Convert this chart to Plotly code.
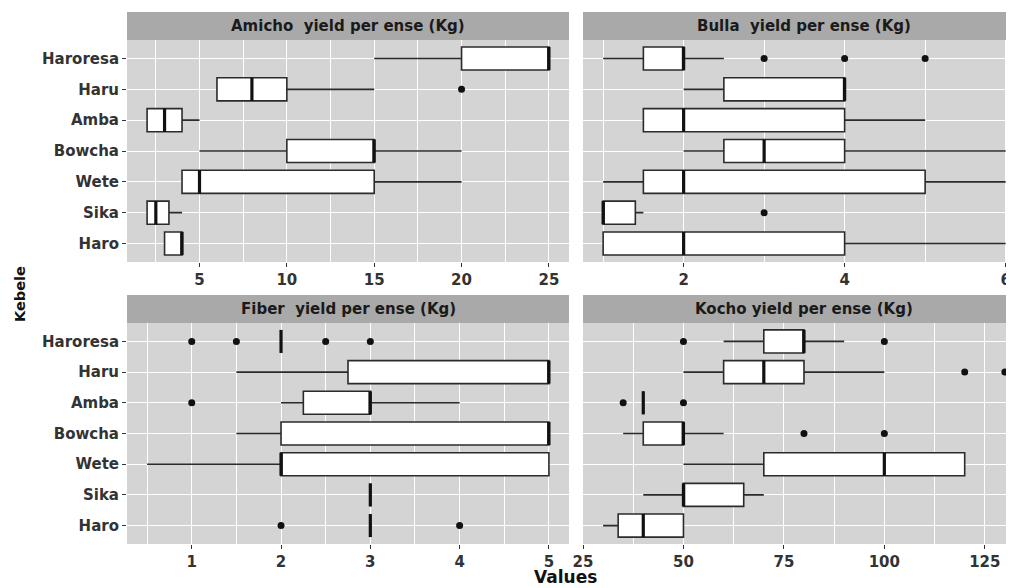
import plotly.graph_objects as go

# ---------------- data ----------------
kebele = ["Haro", "Sika", "Wete", "Bowcha", "Amba", "Haru", "Haroresa"]  # bottom -> top
panel_titles = ["Amicho\u00a0 yield per ense (Kg)", "Bulla\u00a0 yield per ense (Kg)",
                "Fiber\u00a0 yield per ense (Kg)", "Kocho yield per ense (Kg)"]

# Amicho
amicho_low = [3, 2, 4, 5, 2, 6, 15]
amicho_q1 = [3, 2, 4, 10, 2, 6, 20]
amicho_med = [4, 2.5, 5, 15, 3, 8, 25]
amicho_q3 = [4, 3.25, 15, 15, 4, 10, 25]
amicho_high = [4, 4, 20, 20, 5, 15, 25]
amicho_out_k = ["Haru"]
amicho_out_v = [20]

# Bulla
bulla_low = [1, 1, 1, 2, 1.5, 2, 1]
bulla_q1 = [1, 1, 1.5, 2.5, 1.5, 2.5, 1.5]
bulla_med = [2, 1, 2, 3, 2, 4, 2]
bulla_q3 = [4, 1.4, 5, 4, 4, 4, 2]
bulla_high = [6, 1.5, 6, 6, 5, 4, 2.5]
bulla_out_k = ["Sika", "Haroresa", "Haroresa", "Haroresa"]
bulla_out_v = [3, 3, 4, 5]

# Fiber
fiber_low = [3, 3, 0.5, 1.5, 2, 1.5, 2]
fiber_q1 = [3, 3, 2, 2, 2.25, 2.75, 2]
fiber_med = [3, 3, 2, 5, 3, 5, 2]
fiber_q3 = [3, 3, 5, 5, 3, 5, 2]
fiber_high = [3, 3, 5, 5, 4, 5, 2]
fiber_out_k = ["Haro", "Haro", "Amba", "Haroresa", "Haroresa", "Haroresa", "Haroresa"]
fiber_out_v = [2, 4, 1, 1, 1.5, 2.5, 3]

# Kocho
kocho_low = [30, 40, 50, 35, 40, 50, 60]
kocho_q1 = [33.75, 50, 70, 40, 40, 60, 70]
kocho_med = [40, 50, 100, 50, 40, 70, 80]
kocho_q3 = [50, 65, 120, 50, 40, 80, 80]
kocho_high = [50, 70, 120, 60, 40, 100, 90]
kocho_out_k = ["Amba", "Amba", "Bowcha", "Bowcha", "Haru", "Haru", "Haroresa", "Haroresa"]
kocho_out_v = [35, 50, 80, 100, 120, 130, 50, 100]

x_ticks = [[5, 10, 15, 20, 25], [2, 4, 6], [1, 2, 3, 4, 5], [25, 50, 75, 100, 125]]

# ---------------- figure ----------------
W, H = 1014, 588
OFF = 8  # page body margin of the html page
FONT = "DejaVu Sans"
LINE = "#2b2b2b"
PANEL_BG = "#d4d4d4"
STRIP_BG = "#a9a9a9"

pos = list(range(1, len(kebele) + 1))
idx = {k: i + 1 for i, k in enumerate(kebele)}
BOXW = 0.75

panels = [
    (amicho_low, amicho_q1, amicho_med, amicho_q3, amicho_high, amicho_out_k, amicho_out_v),
    (bulla_low, bulla_q1, bulla_med, bulla_q3, bulla_high, bulla_out_k, bulla_out_v),
    (fiber_low, fiber_q1, fiber_med, fiber_q3, fiber_high, fiber_out_k, fiber_out_v),
    (kocho_low, kocho_q1, kocho_med, kocho_q3, kocho_high, kocho_out_k, kocho_out_v),
]

fig = go.Figure()
for p, (lo, q1, md, q3, hi, ok, ov) in enumerate(panels):
    ax = "" if p == 0 else str(p + 1)
    fig.add_trace(go.Box(
        orientation="h", y=pos, q1=q1, median=md, q3=q3,
        lowerfence=lo, upperfence=hi, width=BOXW, whiskerwidth=0,
        fillcolor="white", line=dict(color=LINE, width=1.6),
        boxpoints=False, showlegend=False, hoverinfo="skip",
        xaxis="x" + ax, yaxis="y" + ax,
    ))
    # thicker median lines (ggplot style)
    mx, my = [], []
    for i, m in enumerate(md):
        mx += [m, m, None]
        my += [pos[i] - BOXW / 2, pos[i] + BOXW / 2, None]
    fig.add_trace(go.Scatter(
        x=mx, y=my, mode="lines", line=dict(color="#111111", width=3.2),
        showlegend=False, hoverinfo="skip", xaxis="x" + ax, yaxis="y" + ax,
    ))
    fig.add_trace(go.Scatter(
        x=ov, y=[idx[k] for k in ok], mode="markers",
        marker=dict(color="#111111", size=7),
        showlegend=False, hoverinfo="skip", xaxis="x" + ax, yaxis="y" + ax,
        cliponaxis=False,
    ))

# layout geometry (screen pixels -> paper)
def px(v):
    return (v - OFF) / W

def py(v):
    return 1 - (v - OFF) / H

left_dom = [px(127), px(569)]
right_dom = [px(583), px(1014)]
top_dom = [py(262), py(40)]
bot_dom = [py(544), py(323)]

x_ranges = [[0.85, 26.15], [0.75, 6.104], [0.275, 5.225], [25, 132.27]]
minor = [dict(tick0=0, dtick=2.5), dict(tick0=1, dtick=2),
         dict(tick0=0.5, dtick=1), dict(tick0=12.5, dtick=25)]
doms = [(left_dom, top_dom), (right_dom, top_dom), (left_dom, bot_dom), (right_dom, bot_dom)]

tickfont = dict(family=FONT, size=15, color="#333333", weight="bold")
layout = dict(
    width=W, height=H, margin=dict(l=0, r=0, t=0, b=0, autoexpand=False),
    paper_bgcolor="white", plot_bgcolor=PANEL_BG,
    font=dict(family=FONT), showlegend=False,
)
for p in range(4):
    ax = "" if p == 0 else str(p + 1)
    xd, yd = doms[p]
    layout["xaxis" + ax] = dict(
        domain=xd, anchor="y" + ax, range=x_ranges[p], tickvals=x_ticks[p],
        showgrid=True, gridcolor="white", gridwidth=1.3, zeroline=False,
        ticks="outside", ticklen=4, tickcolor="#333333", tickwidth=1.3,
        tickfont=tickfont, showline=False, automargin=False,
        ticklabeloverflow="allow",
        minor=dict(showgrid=True, gridcolor="white", gridwidth=0.6, ticks="",
                   **minor[p]),
    )
    left_col = p in (0, 2)
    layout["yaxis" + ax] = dict(
        domain=yd, anchor="x" + ax, range=[0.4, 7.6], tickvals=pos, ticktext=kebele,
        showgrid=True, gridcolor="white", gridwidth=1.3, zeroline=False,
        ticks="outside" if left_col else "", ticklen=4, tickcolor="#333333", tickwidth=1.3,
        showticklabels=left_col, tickfont=tickfont, automargin=False,
    )

shapes = []
annotations = []
strip_top = [(py(40), py(12)), (py(40), py(12)), (py(323), py(295)), (py(323), py(295))]
strip_cx = [px((127 + 569) / 2), px(804), px((127 + 569) / 2), px(804)]
for p in range(4):
    xd = doms[p][0]
    y0, y1 = strip_top[p]
    shapes.append(dict(type="rect", xref="paper", yref="paper", x0=xd[0], x1=xd[1],
                       y0=y0, y1=y1, fillcolor=STRIP_BG, line=dict(width=0), layer="below"))
    annotations.append(dict(xref="paper", yref="paper", x=strip_cx[p], y=(y0 + y1) / 2,
                            text=panel_titles[p], showarrow=False, xanchor="center",
                            yanchor="middle",
                            font=dict(family=FONT, size=15, color="#1a1a1a", weight="bold")))

annotations.append(dict(xref="paper", yref="paper", x=px(565), y=py(588), text="Values",
                        showarrow=False, xanchor="center", yanchor="bottom", borderpad=0,
                        font=dict(family=FONT, size=17, color="#111111", weight="bold")))
annotations.append(dict(xref="paper", yref="paper", x=px(20), y=py(294), text="Kebele",
                        showarrow=False, textangle=-90, xanchor="center", yanchor="middle",
                        font=dict(family=FONT, size=14.5, color="#111111", weight="bold")))
layout["shapes"] = shapes
layout["annotations"] = annotations

fig.update_layout(**layout)
fig.write_html("out.html")
